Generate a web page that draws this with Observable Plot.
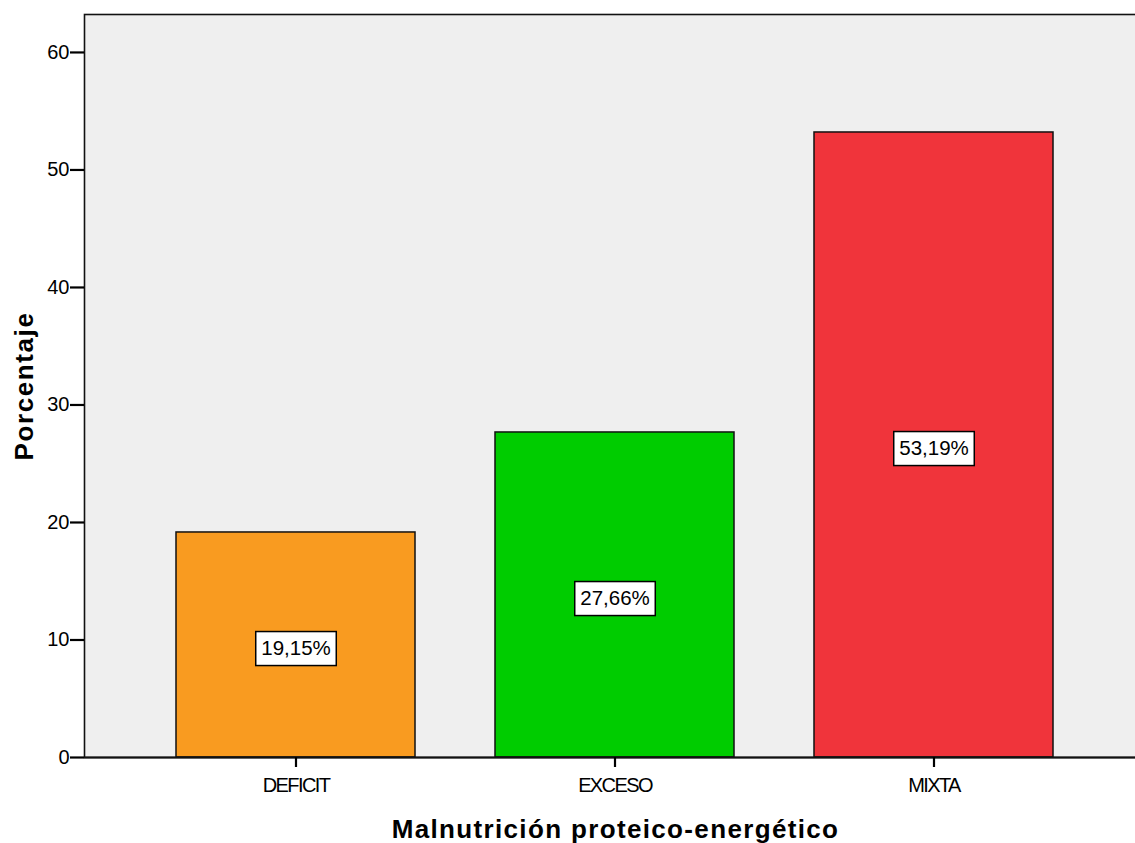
<!DOCTYPE html>
<html>
<head>
<meta charset="utf-8">
<script src="https://cdn.jsdelivr.net/npm/d3@7"></script>
<script src="https://cdn.jsdelivr.net/npm/@observablehq/plot@0.6"></script>
<style>
  html, body { margin: 0; padding: 0; background: #fff; overflow: hidden; }
  #chart svg { display: block; }
</style>
</head>
<body>
<div id="chart"></div>
<script>
// Porcentaje de pacientes por tipo de malnutrición proteico-energética
const categories = ["DEFICIT", "EXCESO", "MIXTA"];
const percentages = [19.15, 27.66, 53.19];
const barColors = ["#f99b20", "#00cc00", "#f0343b"];
const yTicks = [0, 10, 20, 30, 40, 50, 60];
const xTitle = "Malnutrición proteico-energético";
const yTitle = "Porcentaje";

const rows = categories.map((c, i) => ({ category: c, value: percentages[i], color: barColors[i] }));
const pct = v => v.toFixed(2).replace(".", ",") + "%";

const font = "'Liberation Sans', Arial, Helvetica, sans-serif";

const chart = Plot.plot({
  width: 1146,
  height: 843,
  marginLeft: 84,
  marginRight: 0,
  marginTop: 14,
  marginBottom: 86,
  style: { fontFamily: font, background: "#fff", color: "#000", overflow: "visible", maxWidth: "none", height: "843px" },
  x: { domain: categories, paddingInner: 0.25, paddingOuter: 0.288, label: null },
  y: { domain: [0, 63.23], label: null },
  marks: [
    Plot.frame({ fill: "#efefef", stroke: "none" }),
    Plot.barY(rows, { x: "category", y: "value", fill: "color", stroke: "#111", strokeWidth: 1.5 }),
    Plot.frame({ stroke: "#111", strokeWidth: 1.6, fill: "none" }),
    Plot.ruleY([0], { stroke: "#111", strokeWidth: 2.2 }),
    Plot.axisY(yTicks, { tickSize: 14, tickPadding: 1, fontSize: 20, strokeWidth: 2.2, label: null }),
    Plot.axisX({ tickSize: 10, tickPadding: 10, fontSize: 20, strokeWidth: 2.2, label: null }),
    Plot.text(rows, {
      x: "category", y: d => d.value / 2, text: d => pct(d.value), dy: 3.5,
      fontSize: 20.5, fill: "#000", className: "value-label"
    }),
    Plot.text([xTitle], {
      frameAnchor: "bottom", dy: 72, lineAnchor: "middle", textAnchor: "middle",
      fontSize: 26, fontWeight: "bold", fill: "#000", className: "x-title"
    }),
    Plot.text([yTitle], {
      frameAnchor: "left", dx: -60, rotate: -90, lineAnchor: "middle", textAnchor: "middle",
      fontSize: 26, fontWeight: "bold", fill: "#000", className: "y-title"
    })
  ]
});

document.getElementById("chart").appendChild(chart);

// Category labels are set condensed; axis titles slightly spaced
d3.select(chart).selectAll("g[aria-label='x-axis tick label'] text")
  .style("letter-spacing", "-1.6px");
d3.select(chart).selectAll("g.x-title text")
  .style("letter-spacing", "1.35px");
d3.select(chart).selectAll("g.y-title text")
  .style("letter-spacing", "1.6px");

// White boxed backgrounds behind the value labels
d3.select(chart).selectAll("g.value-label text").each(function () {
  const b = this.getBBox();
  const padX = 5.5, padY = 6;
  d3.select(this.parentNode)
    .insert("rect", () => this)
    .attr("transform", this.getAttribute("transform"))
    .attr("x", b.x - padX)
    .attr("y", b.y - padY + 1.5)
    .attr("width", b.width + 2 * padX)
    .attr("height", b.height + 2 * padY - 1)
    .attr("fill", "#fff")
    .attr("stroke", "#000")
    .attr("stroke-width", 1.5);
});
</script>
</body>
</html>
